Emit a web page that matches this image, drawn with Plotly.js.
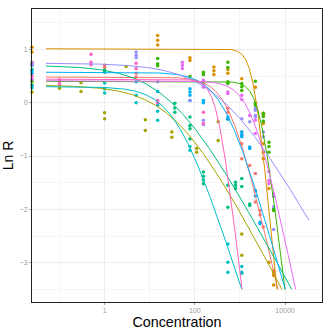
<!DOCTYPE html>
<html>
<head>
<meta charset="utf-8">
<script src="https://cdn.plot.ly/plotly-3.0.1.min.js"></script>
<style>
  html, body { margin: 0; padding: 0; background: #fff; }
  #chart { width: 332px; height: 332px; }
</style>
</head>
<body>
<div id="chart"></div>
<script>
// groups in ggplot hue order
const groupNames = ['1', '2', '3', '4', '5', '6', '7', '8', '9', '10'];
const groupColors = ['#F8766D', '#D89000', '#A3A500', '#39B600', '#00BF7D',
                     '#00BFC4', '#00B0F6', '#9590FF', '#E76BF3', '#FF62BC'];

// fitted log-logistic parameters: lnR = top - ln(1 + (x/ec50)^slope)
const fitTop   = [0.48, 1.01, 0.33, 0.40, 0.70, 0.30, 0.57, 0.74, 0.41, 0.44];
const fitEC50  = [603, 1995, 40, 2790, 30, 40, 447, 398, 1862, 316];
const fitSlope = [1.62, 3.74, 0.71, 3.04, 0.68, 1.14, 1.30, 0.65, 1.75, 3.10];

// observations (concentration 0 = control)
const conc = [
  [0, 0, 1, 1, 5, 5, 540, 540, 540, 1100, 1100, 1100, 1100, 1650, 2200, 2200, 2200, 2800, 2800, 3300],
  [0, 0, 15, 15, 15, 78, 78, 265, 265, 265, 540, 540, 1100, 2200, 3300, 3300, 3300, 3300, 3300, 3300, 4400, 4400, 5600, 5600, 5600, 5600],
  [0, 0, 0.1, 0.3, 0.3, 1, 1, 3, 8, 8, 31, 31, 110, 110, 330, 330, 1100, 1100],
  [0, 15, 15, 15, 78, 155, 155, 540, 540, 540, 540, 1100, 1100, 1100, 2200, 2200, 2200, 3300, 3300, 3300, 4400, 4400, 4400, 5600, 5600],
  [0, 0, 1, 1, 36, 36, 36, 78, 78, 78, 78, 155, 155, 155, 155, 540, 540, 800, 800, 800, 1100, 1100, 1650, 1650],
  [0, 0, 1, 1, 1, 5, 5, 15, 15, 15, 78, 78, 540, 540, 540, 1100, 1100, 1100],
  [0, 0, 5, 15, 78, 78, 78, 78, 155, 155, 540, 540, 1100, 1100, 1100, 1650, 1650, 2200, 2200, 2800, 2800],
  [0, 0, 5, 5, 5, 15, 78, 155, 155, 1100, 1650, 2200, 2200, 2200, 2200, 3300, 3300, 5600, 5600, 5600],
  [0, 53, 53, 53, 155, 155, 155, 540, 540, 1100, 1100, 1650, 2200, 2200, 4400, 4400, 4400, 5600],
  [0, 0.1, 0.1, 0.1, 0.5, 0.5, 0.5, 5, 5, 15, 15, 155, 155]
];
const lnR = [
  [0.76, 0.72, 0.70, 0.66, 0.55, 0.48, -0.11, -0.18, -0.30, -0.55, -0.61, -0.77, -1.05, -1.18, -1.33, -1.65, -1.86, -2.02, -2.10, -2.33],
  [1.04, 0.95, 1.26, 1.17, 1.08, 0.84, 0.79, 0.67, 0.60, 0.53, 0.62, 0.55, 0.45, 0.29, -0.20, -0.22, -0.39, -0.77, -0.93, -1.05, -1.61, -2.99, -3.15, -3.20, -3.24, -3.42],
  [0.33, 0.20, 0.27, 0.375, 0.21, -0.19, -0.30, 0.68, -0.32, -0.52, -0.55, -0.65, -0.86, -0.93, -0.36, -0.71, -2.46, -2.86],
  [0.40, 0.83, 0.73, 0.69, 0.49, 0.57, 0.53, 0.76, 0.66, 0.39, 0.36, 0.36, 0.30, 0.23, 0.40, -0.01, -0.05, -0.20, -0.26, -0.35, -0.74, -0.82, -0.93, -1.99, -2.02],
  [0.70, 0.62, 0.61, 0.57, -0.01, -0.10, -0.18, -0.27, -0.43, -0.49, -0.68, -1.30, -1.38, -1.45, -1.52, -1.55, -1.96, -1.49, -1.55, -1.61, -1.42, -1.57, -1.90, -1.93],
  [0.32, 0.28, 0.37, 0.26, 0.18, 0.14, 0.00, -0.05, -0.16, -0.33, -0.82, -0.89, -2.65, -2.99, -3.18, -3.07, -3.18, -3.20],
  [0.60, 0.55, 0.39, 0.21, 0.26, 0.20, 0.14, 0.04, 0.04, 0.00, -0.27, -0.31, -0.55, -0.60, -0.64, -0.83, -0.86, -1.65, -1.75, -2.24, -2.27],
  [0.74, 0.70, 0.95, 0.89, 0.84, 0.39, 0.04, -0.33, -0.41, -0.30, -0.36, -0.11, -0.14, -0.24, -0.27, -0.55, -0.64, -1.76, -1.95, -2.38],
  [0.44, 0.76, 0.70, 0.64, 0.42, 0.36, 0.29, 0.20, 0.17, 0.14, 0.06, -0.24, -0.33, -0.58, -1.29, -1.46, -1.52, -1.71],
  [0.50, 0.43, 0.39, 0.34, 0.91, 0.76, 0.71, 0.74, 0.64, 0.04, 0.00, -0.18, -0.39]
];

const xRangeLog = [-1.61, 4.82];
const yRange = [-3.737, 1.756];
const curveLogMin = -1.3, curveLogMax = 4.53, curveFloor = -3.5;

// like ggplot, a zero concentration on a log axis lands on the panel edge
function plotX(c) {
    return c > 0 ? c : Math.pow(10, xRangeLog[0]);
}

function fitCurve(i) {
    const top = fitTop[i], ec = fitEC50[i], b = fitSlope[i];
    const xs = [], ys = [];
    const xEnd = ec * Math.pow(Math.exp(top - curveFloor) - 1, 1 / b);
    for (let k = 0; k <= 600; k++) {
        const x = Math.pow(10, curveLogMin + (curveLogMax - curveLogMin) * k / 600);
        if (x > xEnd) break;
        xs.push(x);
        ys.push(top - Math.log(1 + Math.pow(x / ec, b)));
    }
    if (xEnd < Math.pow(10, curveLogMax)) {
        xs.push(xEnd);
        ys.push(curveFloor);
    }
    return { xs, ys };
}

const traces = [];
groupNames.forEach((g, i) => {
    traces.push({
        x: conc[i].map(plotX), y: lnR[i],
        type: 'scatter', mode: 'markers', name: g,
        cliponaxis: false,
        marker: { color: groupColors[i], size: 3.5 },
        hoverinfo: 'x+y'
    });
});
groupNames.forEach((g, i) => {
    const c = fitCurve(i);
    traces.push({
        x: c.xs, y: c.ys,
        type: 'scatter', mode: 'lines', name: g + ' fit',
        line: { color: groupColors[i], width: 1 },
        hoverinfo: 'skip'
    });
});

const axisCommon = {
    showline: true, linecolor: '#222', linewidth: 1, mirror: true,
    showgrid: true, gridcolor: '#ededed', gridwidth: 1,
    zeroline: false,
    ticks: 'outside', ticklen: 2, tickcolor: '#a0a0a0',
    tickfont: { size: 7, color: '#9a9a9a' }
};

const layout = {
    width: 332, height: 332,
    margin: { l: 32, r: 10, t: 9, b: 30 },
    paper_bgcolor: '#fff', plot_bgcolor: '#fff',
    font: { family: 'Liberation Sans, Arial, sans-serif' },
    showlegend: false,
    xaxis: Object.assign({}, axisCommon, {
        type: 'log', range: xRangeLog,
        tickmode: 'array', tickvals: [1, 100, 10000], ticktext: ['1', '100', '10000'],
        minor: { tickmode: 'array', tickvals: [0.1, 10, 1000], showgrid: true, gridcolor: '#f5f5f5', ticks: '' },
        title: { text: 'Concentration', font: { size: 14.3, color: '#000' }, standoff: 2 }
    }),
    yaxis: Object.assign({}, axisCommon, {
        range: yRange,
        tickmode: 'array', tickvals: [-3, -2, -1, 0, 1],
        minor: { tickmode: 'array', tickvals: [-3.5, -2.5, -1.5, -0.5, 0.5, 1.5], showgrid: true, gridcolor: '#f5f5f5', ticks: '' },
        title: { text: 'Ln R', font: { size: 14, color: '#000' }, standoff: 4 }
    })
};

Plotly.newPlot('chart', traces, layout, { staticPlot: true });
</script>
</body>
</html>
